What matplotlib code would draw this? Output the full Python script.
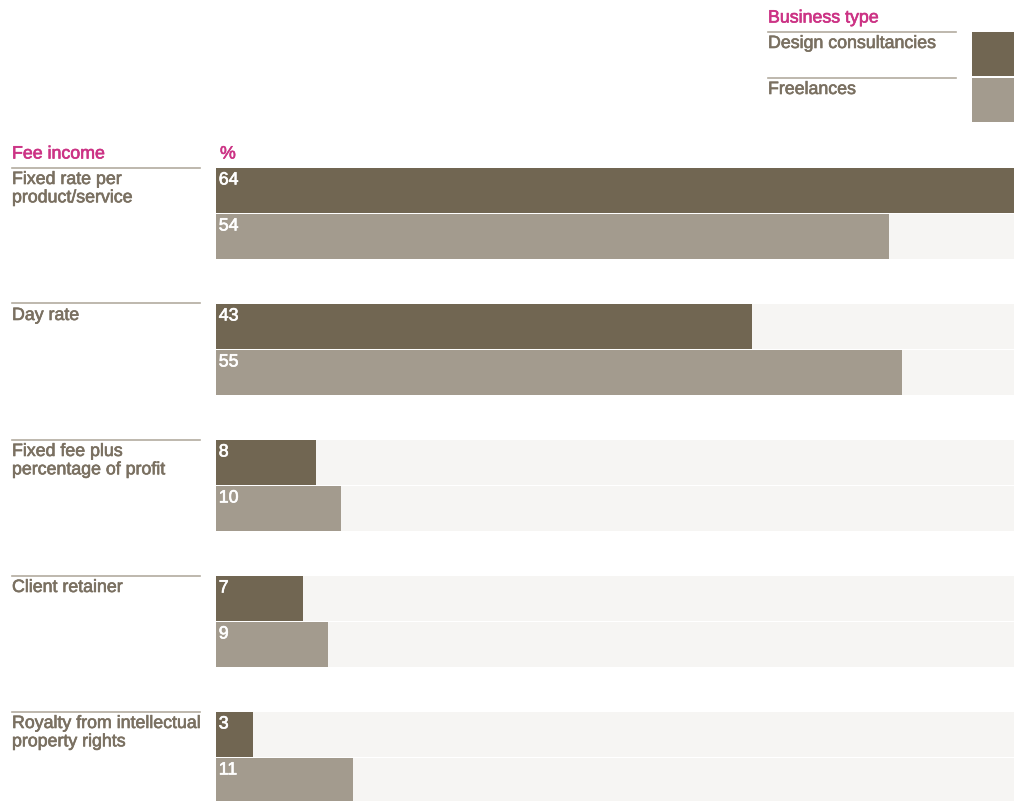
import matplotlib
matplotlib.use("Agg")
import matplotlib.pyplot as plt
from matplotlib.patches import Rectangle
from matplotlib.lines import Line2D
import matplotlib.patheffects as pe

# Fee income structure by business type (%)
categories = [
    "Fixed rate per\nproduct/service",
    "Day rate",
    "Fixed fee plus\npercentage of profit",
    "Client retainer",
    "Royalty from intellectual\nproperty rights",
]
series_names = ["Design consultancies", "Freelances"]
design_consultancies = [64, 43, 8, 7, 3]
freelances = [54, 55, 10, 9, 11]

DARK = "#716652"
LIGHT = "#a39b8e"
TRACK = "#f6f5f3"
PINK = "#cc3385"
TEXT = "#7a7061"
RULE = "#b3aca0"

plt.rcParams["font.family"] = ["Liberation Sans", "DejaVu Sans"]

W, H = 1014, 801
fig = plt.figure(figsize=(W / 100, H / 100), dpi=100)
fig.patch.set_facecolor("white")


def fx(px):
    return px / W


def fy(py):
    return 1 - py / H


def medium(color):
    # a thin outline in the text colour gives a medium-weight look
    return [pe.withStroke(linewidth=0.45, foreground=color)]


# Bar panel, measured in pixels vertically so the groups line up with the labels
left, right, top, bottom = 216, 1014, 168, 801
ax = fig.add_axes([fx(left), fy(bottom), fx(right - left), (bottom - top) / H])
ax.set_xlim(0, max(design_consultancies))
ax.set_ylim(bottom - top, 0)
ax.axis("off")

group_pitch = 136
bar_h = 45
bar_step = 46
values = [design_consultancies, freelances]
colors = [DARK, LIGHT]
fs = 12.8

for i, cat in enumerate(categories):
    g0 = group_pitch * i
    for j, (vals, col) in enumerate(zip(values, colors)):
        y = g0 + bar_step * j
        ax.barh(y, max(design_consultancies), height=bar_h, align="edge",
                color=TRACK, linewidth=0, zorder=1)
        ax.barh(y, vals[i], height=bar_h, align="edge",
                color=col, linewidth=0, zorder=2)
        ax.text(0.22, y + 3.5, str(vals[i]), color="white", fontsize=fs,
                ha="left", va="top", zorder=3, path_effects=medium("white"))
    # Category label with rule above it
    ytop = top + g0
    fig.add_artist(Line2D([fx(12), fx(200)], [fy(ytop - 0.5), fy(ytop - 0.5)],
                          color=RULE, lw=1.2))
    fig.text(fx(12), fy(ytop + 3), cat, color=TEXT, fontsize=fs,
             ha="left", va="top", linespacing=1.1, path_effects=medium(TEXT))

# Panel headings
fig.text(fx(12), fy(145.5), "Fee income", color=PINK, fontsize=fs,
         ha="left", va="top", path_effects=medium(PINK))
fig.text(fx(220), fy(145.5), "%", color=PINK, fontsize=fs, ha="left",
         va="top", path_effects=medium(PINK))

# Legend
fig.text(fx(768), fy(9.5), "Business type", color=PINK, fontsize=fs,
         ha="left", va="top", path_effects=medium(PINK))
legend_tops = [32, 78]
for name, col, lt in zip(series_names, colors, legend_tops):
    fig.add_artist(Line2D([fx(768), fx(956)], [fy(lt - 0.5), fy(lt - 0.5)],
                          color=RULE, lw=1.2))
    fig.text(fx(768), fy(lt + 3), name, color=TEXT, fontsize=fs,
             ha="left", va="top", path_effects=medium(TEXT))
    fig.add_artist(Rectangle((fx(972), fy(lt + 44)), fx(42), 44 / H,
                             color=col, linewidth=0, transform=fig.transFigure))

fig.savefig("out.png", dpi=100, facecolor="white")
